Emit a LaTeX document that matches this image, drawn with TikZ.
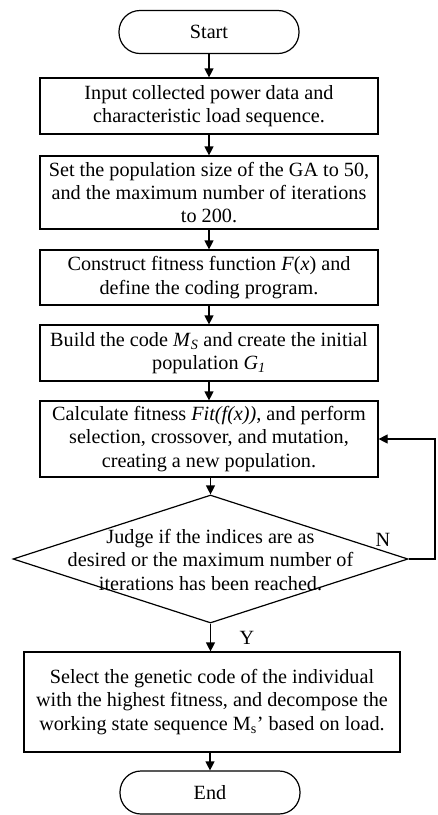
\documentclass[tikz,border=0pt]{standalone}
\usepackage{fontspec}
\setmainfont{Liberation Serif}
\usetikzlibrary{arrows.meta,shapes.geometric}
\begin{document}
\begin{tikzpicture}[x=1pt,y=-1pt,
  every node/.style={font=\fontsize{20.2}{23.3}\selectfont},
  term/.style={draw,line width=1.2pt,rounded corners=21pt,minimum width=180pt,minimum height=43pt,inner sep=0pt},
  proc/.style={draw,line width=1.2pt,minimum width=338pt,align=center,inner sep=0pt},
  dec/.style={draw,line width=1.2pt,diamond,minimum width=395pt,minimum height=128pt,inner sep=0pt},
  flow/.style={line width=1.2pt,-{Triangle[length=9pt,width=9pt]}}
]
\useasboundingbox (0,0) rectangle (437,815);
\node[term] (s) at (209,32) {Start};
\node[proc,minimum height=56pt] (b1) at (209,106) {Input collected power data and\\characteristic load sequence.};
\node[proc,minimum height=73pt] (b2) at (209,192.5) {Set the population size of the GA to 50,\\and the maximum number of iterations\\to 200.};
\node[proc,minimum height=55pt] (b3) at (209,277.5) {Construct fitness function \textit{F}(\textit{x}) and\\define the coding program.};
\node[proc,minimum height=56pt] (b4) at (209,353) {Build the code \textit{M}\textsubscript{\textit{S}} and create the initial\\population \textit{G}\textsubscript{\textit{1}}};
\node[proc,minimum height=76pt] (b5) at (209,439) {Calculate fitness \textit{Fit(f(x))}, and perform\\selection, crossover, and mutation,\\creating a new population.};
\node[dec] (d) at (210.5,559) {};
\node[align=center,inner sep=0pt] (dt) at (210.5,560) {Judge if the indices are as\\desired or the maximum number of\\iterations has been reached.};
\node[proc,minimum width=376pt,minimum height=100pt] (b6) at (212,702) {Select the genetic code of the individual\\with the highest fitness, and decompose the\\working state sequence M\textsubscript{s}’ based on load.};
\node[term] (e) at (210,792.5) {End};
\coordinate (r) at (435,559);
\node (n) at (383,540) {N};
\node (y) at (247,638) {Y};
\draw[flow] (s) -- (b1);
\draw[flow] (b1) -- (b2);
\draw[flow] (b2) -- (b3);
\draw[flow] (b3) -- (b4);
\draw[flow] (b4) -- (b5);
\draw[flow] (b5.south -| d.north) -- (d.north);
\draw[flow] (d.south) -- (d.south |- b6.north);
\draw[flow] (b6.south -| e.north) -- (e.north);
\draw[flow] (d.east) -- (r) |- (b5.east);
\end{tikzpicture}
\end{document}
